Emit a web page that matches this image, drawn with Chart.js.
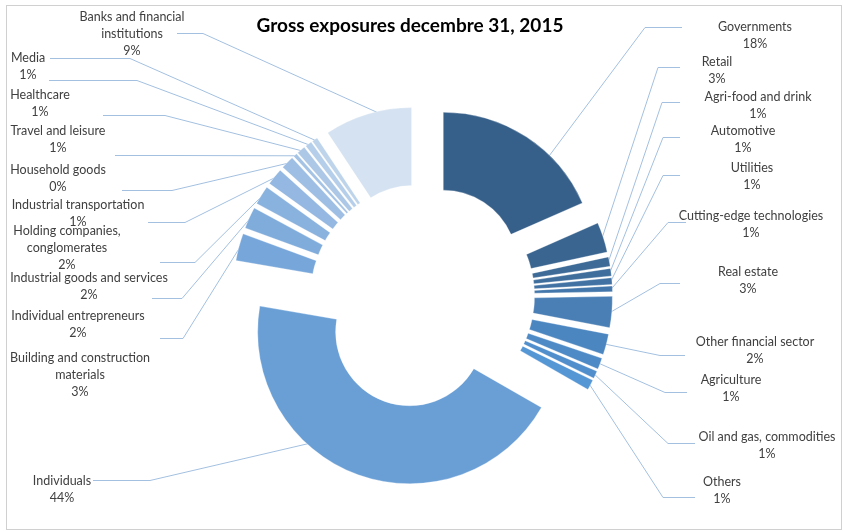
<!DOCTYPE html>
<html lang="en">
<head>
    <meta charset="UTF-8">
    <title>Gross exposures</title>
    <script src="https://cdn.jsdelivr.net/npm/chart.js"></script>
    <style>
        body { margin: 0; background: #fff; }
        #wrap { width: 843px; height: 531px; }
    </style>
</head>
<body>
    <div id="wrap"><canvas id="exposureChart" width="843" height="531"></canvas></div>

    <script>
        // sectors, clockwise from 12 o'clock
        const sectors = [
            'Governments', 'Retail', 'Agri-food and drink', 'Automotive', 'Utilities',
            'Cutting-edge technologies', 'Real estate', 'Other financial sector', 'Agriculture',
            'Oil and gas, commodities', 'Others', 'Individuals', 'Building and construction\nmaterials',
            'Individual entrepreneurs', 'Industrial goods and services', 'Holding companies,\nconglomerates',
            'Industrial transportation', 'Household goods', 'Travel and leisure', 'Healthcare',
            'Media', 'Banks and financial\ninstitutions'
        ];
        // share of gross exposure (%)
        const shares = [
            18.4, 3.2, 1.0, 0.8, 0.7,
            0.6, 3.3, 2.2, 1.2,
            0.8, 1.1, 44.4, 2.9,
            2.3, 2.0, 1.8,
            1.4, 0.4, 0.9, 0.7,
            0.6, 9.3
        ];

        const sliceColors = [
            '#365f89', '#3a6590', '#3d6a97', '#3f6e9d', '#4172a3',
            '#4376aa', '#4a7fb6', '#4c86c0', '#4e8ac6',
            '#518fcc', '#5596d5', '#6a9fd6', '#77a6da',
            '#80acdc', '#8ab2df', '#94b8e1',
            '#9ebfe3', '#a5c3e4', '#adc8e6', '#b5cee9',
            '#bed4eb', '#d5e2f1'
        ];

        // label block: centre x, first line y
        const labelPos = [
            [755, 27], [717, 62], [758, 97], [743, 131], [752, 168],
            [751, 216], [748, 272], [755, 342], [731, 380],
            [767, 437], [722, 482], [62, 481], [80, 358],
            [78, 316], [89, 278], [67, 231],
            [78, 205], [58, 170], [58, 131], [40, 95],
            [28, 58], [132, 17]
        ];
        // leader: label end x, elbow x, y
        const leaders = [
            [682, 645, 27], [680, 658, 67], [680, 662, 102], [680, 663, 137], [680, 663, 175],
            [686, 668, 222], [680, 660, 283], [685, 660, 355], [687, 665, 392],
            [695, 668, 443], [695, 663, 497], [93, 150, 480], [160, 183, 338],
            [152, 182, 298], [160, 195, 262], [148, 185, 222],
            [122, 172, 190], [115, 170, 155], [103, 165, 115], [49, 137, 80],
            [50, 130, 58], [177, 203, 33]
        ];
        const attachAt = sectors.map((s, i) => i === 0 ? 0.67 : i === 11 ? 0.64 : i === 21 ? 0.61 : 0.5);

        const EXPLODE = 38;
        const FONT = '"Lato", "Open Sans", sans-serif';

        const explodePlugin = {
            id: 'explode',
            beforeDatasetsDraw(chart) {
                const meta = chart.getDatasetMeta(0);
                const area = chart.chartArea;
                const cx = (area.left + area.right) / 2 + meta.controller.offsetX;
                const cy = (area.top + area.bottom) / 2 + meta.controller.offsetY;
                const ctx = chart.ctx;
                ctx.save();
                ctx.strokeStyle = '#a3c0e0';
                ctx.lineWidth = 1;
                meta.data.forEach((arc, i) => {
                    const h = (arc.startAngle + arc.endAngle) / 2;
                    arc.x = cx + Math.cos(h) * EXPLODE;
                    arc.y = cy + Math.sin(h) * EXPLODE;
                    const ld = leaders[i];
                    if (!ld) return;
                    const a = arc.startAngle + (arc.endAngle - arc.startAngle) * attachAt[i];
                    const px = arc.x + Math.cos(a) * (arc.outerRadius - 1);
                    const py = arc.y + Math.sin(a) * (arc.outerRadius - 1);
                    ctx.beginPath();
                    ctx.moveTo(ld[0], ld[2] + 0.5);
                    ctx.lineTo(ld[1], ld[2] + 0.5);
                    ctx.lineTo(px, py);
                    ctx.stroke();
                });
                ctx.restore();
            },
            afterDraw(chart) {
                const ctx = chart.ctx;
                const total = shares.reduce((a, b) => a + b, 0);
                ctx.save();
                ctx.fillStyle = '#000';
                ctx.font = 'bold 19px ' + FONT;
                ctx.textAlign = 'center';
                ctx.textBaseline = 'middle';
                ctx.fillText('Gross exposures decembre 31, 2015', 410, 26);

                ctx.fillStyle = '#404040';
                ctx.font = '12.5px ' + FONT;
                sectors.forEach((name, i) => {
                    const lines = name.split('\n');
                    lines.push(Math.round(shares[i] / total * 100) + '%');
                    const [x, y] = labelPos[i];
                    lines.forEach((t, k) => ctx.fillText(t, x, y + k * 17));
                });
                ctx.restore();
            },
            beforeDraw(chart) {
                const ctx = chart.ctx;
                ctx.save();
                ctx.strokeStyle = '#d0d0d0';
                ctx.lineWidth = 1;
                ctx.strokeRect(6.5, 5.5, 835, 524);
                ctx.restore();
            }
        };

        const ctx = document.getElementById('exposureChart').getContext('2d');
        const exposureChart = new Chart(ctx, {
            type: 'doughnut',
            data: {
                labels: sectors,
                datasets: [{
                    data: shares,
                    backgroundColor: sliceColors,
                    borderColor: 'rgba(255,255,255,0.5)',
                    borderWidth: 0.6
                }]
            },
            options: {
                responsive: false,
                devicePixelRatio: 1,
                animation: false,
                events: [],
                radius: 152,
                cutout: '48.7%',
                layout: {
                    padding: { left: 122, right: 120, top: 80, bottom: 19 }
                },
                plugins: {
                    legend: { display: false },
                    tooltip: { enabled: false }
                }
            },
            plugins: [explodePlugin]
        });
    </script>
</body>
</html>
